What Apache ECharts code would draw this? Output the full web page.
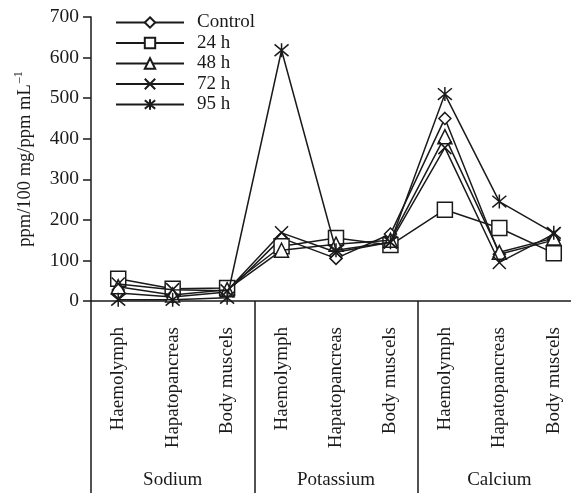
<!DOCTYPE html>
<html><head><meta charset="utf-8">
<script src="https://cdn.jsdelivr.net/npm/echarts@6/dist/echarts.min.js"></script>
<style>html,body{margin:0;padding:0;background:#fff}#c{width:571px;height:493px}</style>
</head><body><div id="c"></div>
<script>
const categories = ['Haemolymph','Hapatopancreas','Body muscels','Haemolymph','Hapatopancreas','Body muscels','Haemolymph','Hapatopancreas','Body muscels'];
const groups = ['Sodium','Potassium','Calcium'];
const yTicks = [0,100,200,300,400,500,600,700];
const seriesNames = ['Control','24 h','48 h','72 h','95 h'];
const control = [20, 10, 22, 155, 105, 165, 450, 115, 150];
const h24 = [55, 30, 32, 135, 155, 138, 225, 180, 118];
const h48 = [35, 15, 28, 125, 140, 150, 405, 120, 155];
const h72 = [42, 28, 25, 168, 120, 145, 378, 95, 165];
const h95 = [3, 3, 8, 618, 125, 145, 510, 245, 168];

const FONT = '"Liberation Serif", "DejaVu Serif", serif';
const INK = '#1a1a1a';
const symbols = ['diamond','rect','triangle',
  'path://M0 0 L10 10 M10 0 L0 10',
  'path://M0 0 L10 10 M10 0 L0 10 M5 -1 L5 11'];
const sizes = [12, 15, 14, 13, 14];
const datas = [control, h24, h48, h72, h95];

const chart = echarts.init(document.getElementById('c'), null, {renderer:'canvas'});
chart.setOption({
  animation: false,
  backgroundColor: '#fff',
  textStyle: {fontFamily: FONT, color: INK},
  grid: {left: 91, top: 17, width: 490, bottom: 192, containLabel: false, outerBoundsMode: 'none'},
  legend: {
    orient: 'vertical', left: 115, top: 13, padding: 0,
    itemWidth: 68, itemHeight: 13, itemGap: 1.5,
    textStyle: {fontFamily: FONT, fontSize: 19, lineHeight: 19, color: INK, padding: [0,0,0,8]},
    data: seriesNames
  },
  xAxis: [{
    type: 'category', data: categories, position: 'bottom',
    axisLine: {show: true, lineStyle: {color: INK, width: 1.5}},
    axisTick: {show: true, alignWithLabel: false, inside: false, length: 192,
      interval: function(i){ return i % 3 === 0; },
      lineStyle: {color: INK, width: 1.5}},
    axisLabel: {rotate: 90, margin: 26, fontFamily: FONT, fontSize: 19, color: INK, interval: 0},
    splitLine: {show: false}
  },{
    type: 'category', data: groups, position: 'bottom', gridIndex: 0,
    axisLine: {show: false}, axisTick: {show: false},
    axisLabel: {margin: 170, fontFamily: FONT, fontSize: 19, color: INK}
  }],
  yAxis: {
    type: 'value', min: 0, max: 700, interval: 100,
    name: '{a|ppm/100 mg/ppm mL}{s|–1}',
    nameLocation: 'middle', nameGap: 56, nameRotate: 90,
    nameTextStyle: {fontFamily: FONT, color: INK,
      rich: {a: {fontFamily: FONT, fontSize: 18.5, color: INK, lineHeight: 22, verticalAlign:'bottom'},
             s: {fontFamily: FONT, fontSize: 12, color: INK, lineHeight: 22, verticalAlign:'top', padding:[0,0,0,1]}}},
    axisLine: {show: true, lineStyle: {color: INK, width: 1.5}},
    axisTick: {show: true, length: 8, lineStyle: {color: INK, width: 1.5}},
    axisLabel: {margin: 12, fontFamily: FONT, fontSize: 19.5, color: INK,
      formatter: v => yTicks.indexOf(v) >= 0 ? String(v) : ''},
    splitLine: {show: false}
  },
  series: seriesNames.map((n,i)=>({
    name: n, type: 'line', data: datas[i], xAxisIndex: 0,
    symbol: symbols[i], symbolSize: sizes[i],
    lineStyle: {color: INK, width: 1.5},
    itemStyle: {color: '#fff', borderColor: INK, borderWidth: 1.5},
    z: 2 + i
  }))
});
</script></body></html>
